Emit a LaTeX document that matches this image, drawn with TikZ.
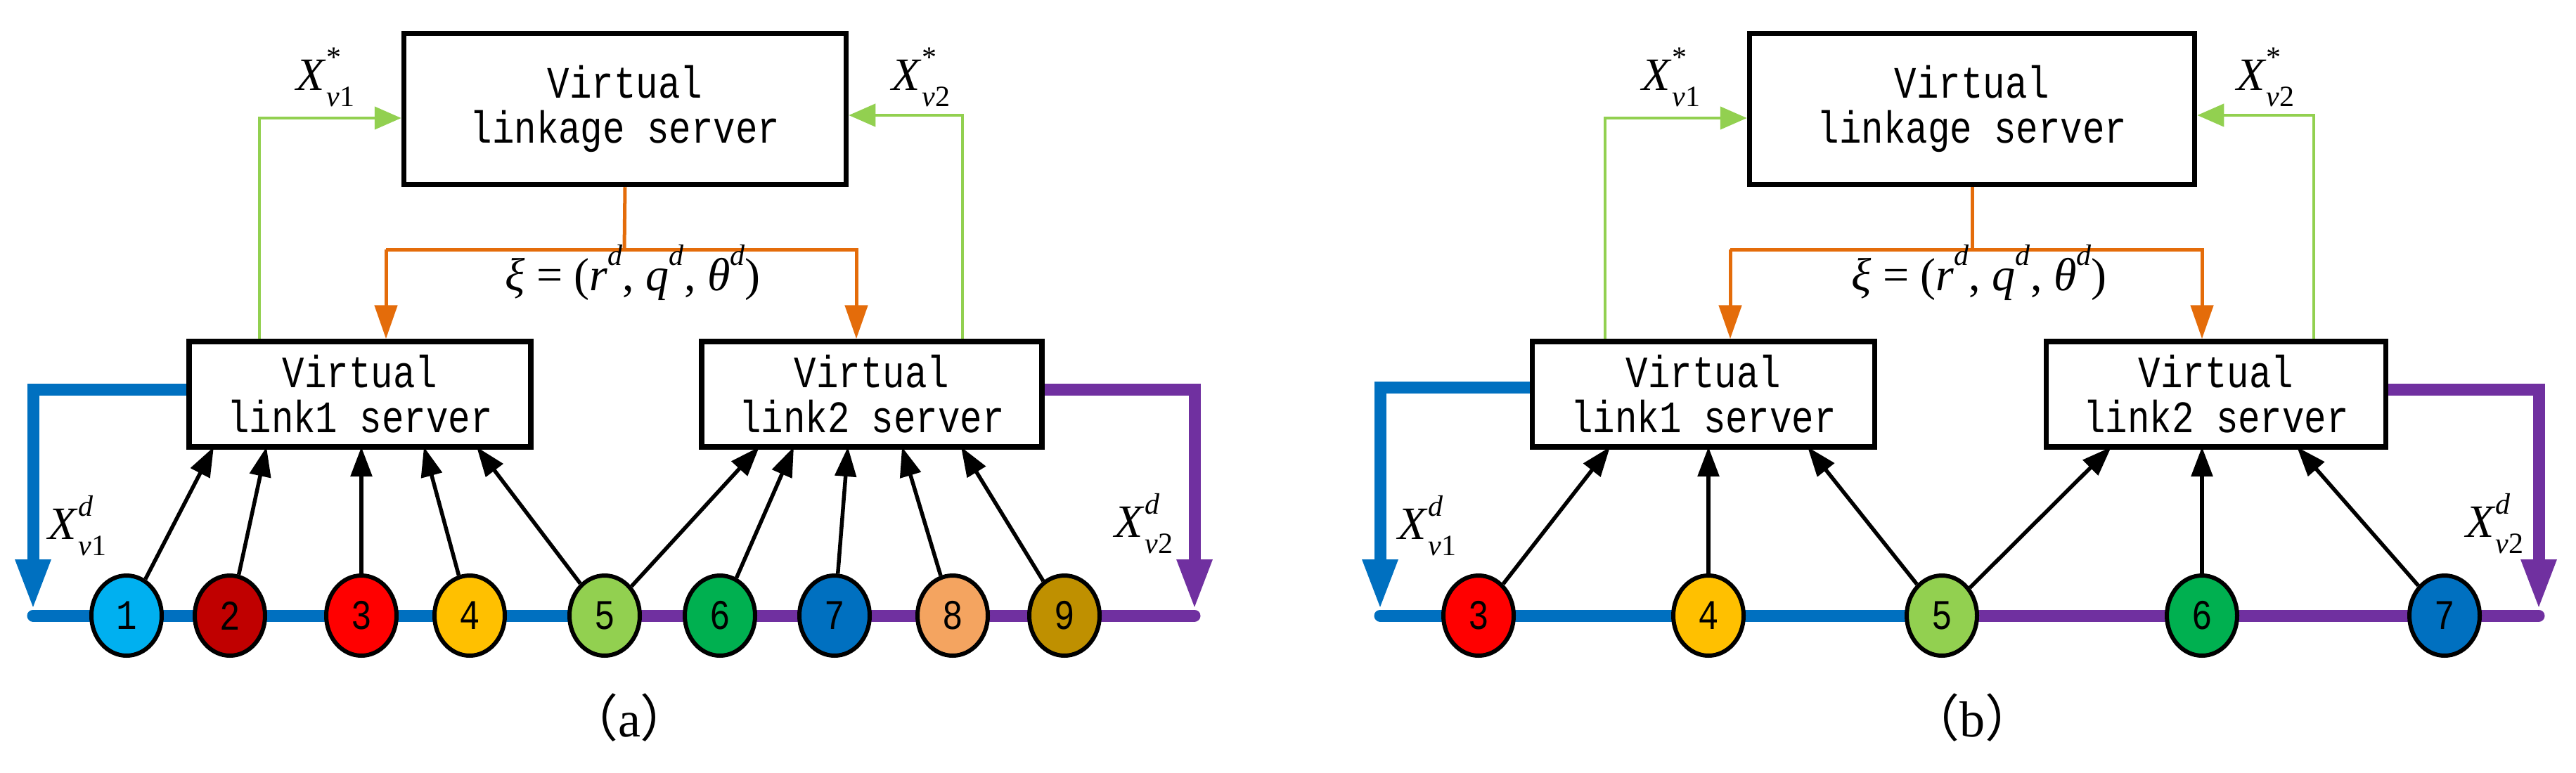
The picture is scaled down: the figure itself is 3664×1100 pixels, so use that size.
\documentclass[tikz,border=0pt]{standalone}
\usepackage{fontspec}
\setmainfont{Liberation Serif}
\newfontfamily\monof[FakeStretch=0.82]{Liberation Mono}
\newfontfamily\cjk{Noto Sans CJK SC}
\usetikzlibrary{arrows.meta,shapes.geometric}
\definecolor{cblue}{HTML}{0070C0}
\definecolor{cpurple}{HTML}{7030A0}
\definecolor{cgreen}{HTML}{92D050}
\definecolor{corange}{HTML}{E46C0A}
\definecolor{k1}{HTML}{00B0F0}
\definecolor{k2}{HTML}{C00000}
\definecolor{k3}{HTML}{FF0000}
\definecolor{k4}{HTML}{FFC000}
\definecolor{k5}{HTML}{92D050}
\definecolor{k6}{HTML}{00B050}
\definecolor{k7}{HTML}{0070C0}
\definecolor{k8}{HTML}{F4A460}
\definecolor{k9}{HTML}{BF9000}
\newcommand{\XL}[2]{\textit{X}\makebox[0pt][l]{\raisebox{0.5em}{\fontsize{42}{42}\selectfont #1}}\raisebox{-0.35em}{\fontsize{42}{42}\selectfont\textit{v}#2}}
\newcommand{\SUP}[1]{\raisebox{0.55em}{\fontsize{42}{42}\selectfont\textit{#1}}}
\tikzset{
 box/.style={draw,line width=7.5pt,fill=white,align=center,font=\fontsize{64}{64}\selectfont\monof,inner sep=0pt},
 circ/.style={draw,line width=6pt,ellipse,minimum width=100pt,minimum height=114pt,inner sep=0pt,font=\fontsize{60}{60}\selectfont\monof},
 arr/.style={line width=5.5pt,-{Triangle[length=42pt,width=30pt]}},
 garr/.style={cgreen,line width=4.5pt,-{Triangle[length=38pt,width=32pt]}},
 oarr/.style={corange,line width=5pt,-{Triangle[length=48pt,width=32pt]}},
 thick1/.style={line width=17pt,line cap=round},
 bigarr/.style={line width=17pt,-{Triangle[length=72pt,width=46pt]}},
 lab/.style={font=\fontsize{66}{66}\selectfont},
}
\begin{document}
\begin{tikzpicture}[x=1pt,y=-1pt]
\useasboundingbox (0,0) rectangle (3664,1100);
% ===== panel (a)
\node[box,minimum width=629pt,minimum height=215pt] (top) at (889,155) {Virtual\\linkage server};
\node[box,minimum width=486pt,minimum height=150pt] (l1) at (512,561) {Virtual\\link1 server};
\node[box,minimum width=484pt,minimum height=150pt] (l2) at (1240,561) {Virtual\\link2 server};
\coordinate (aL) at (47,876); \coordinate (a5) at (860,876); \coordinate (aR) at (1699,876);
\draw[cblue,thick1] (aL) -- (a5);
\draw[cpurple,thick1] (a5) -- (aR);
\draw[cblue,thick1,line cap=butt] (l1.west |- 0,554) -- (47,554) -- (47,800);
\draw[cblue,bigarr] (47,790) -- (47,868);
\draw[cpurple,thick1,line cap=butt] (l2.east |- 0,554) -- (1699,554) -- (1699,800);
\draw[cpurple,bigarr] (1699,790) -- (1699,868);
\foreach \i/\x in {1/180,2/327,3/514,4/668,5/860,6/1024,7/1187,8/1355,9/1514}
  \node[circ,fill=k\i] (a\i) at (\x,876) {\i};
\foreach \i/\x in {1/304,2/379,3/514,4/603,5/678} \draw[arr] (a\i) -- (\x,636);
\foreach \i/\x in {5/1080,6/1129,7/1206,8/1283,9/1367} \draw[arr] (a\i) -- (\x,636);
\draw[garr] (l1.north -| 369,0) -- (369,168) -- (top.west |- 0,168);
\draw[garr] (l2.north -| 1369,0) -- (1369,164) -- (top.east |- 0,164);
\draw[corange,line width=5pt] (top.south) -- (888,355);
\draw[oarr] (549,355) -- (l1.north -| 549,0);
\draw[oarr] (549,355) -- (1218,355) -- (l2.north -| 1218,0);
\node[lab] (xa) at (900,388) {\textit{ξ} = (\textit{r}\SUP{d}, \textit{q}\SUP{d}, \textit{θ}\SUP{d})};
\node[lab] (xs1) at (463,110) {\XL{*}{1}};
\node[lab] (xs2) at (1310,110) {\XL{*}{2}};
\node[lab] (xd1) at (110,748) {\XL{\textit{d}}{1}};
\node[lab] (xd2) at (1627,745) {\XL{\textit{d}}{2}};
\node[font=\fontsize{72}{72}\selectfont] (ca) at (895,1021) {{\cjk（}a{\cjk）}};
% ===== panel (b)
\node[box,minimum width=633pt,minimum height=215pt] (topb) at (2805,155) {Virtual\\linkage server};
\node[box,minimum width=487pt,minimum height=150pt] (l1b) at (2423,561) {Virtual\\link1 server};
\node[box,minimum width=483pt,minimum height=150pt] (l2b) at (3152,561) {Virtual\\link2 server};
\coordinate (bL) at (1963,876); \coordinate (b5) at (2762,876); \coordinate (bR) at (3611,876);
\draw[cblue,thick1] (bL) -- (b5);
\draw[cpurple,thick1] (b5) -- (bR);
\draw[cblue,thick1,line cap=butt] (l1b.west |- 0,551) -- (1963,551) -- (1963,800);
\draw[cblue,bigarr] (1963,790) -- (1963,868);
\draw[cpurple,thick1,line cap=butt] (l2b.east |- 0,554) -- (3611,554) -- (3611,800);
\draw[cpurple,bigarr] (3611,790) -- (3611,868);
\foreach \i/\x in {3/2103,4/2430,5/2762,6/3132,7/3477}
  \node[circ,fill=k\i] (b\i) at (\x,876) {\i};
\draw[arr] (b3) -- (2290,636);
\draw[arr] (b4) -- (2430,636);
\draw[arr] (b5) -- (2571,636);
\draw[arr] (b5) -- (3003,636);
\draw[arr] (b6) -- (3132,636);
\draw[arr] (b7) -- (3267,636);
\draw[garr] (l1b.north -| 2283,0) -- (2283,168) -- (topb.west |- 0,168);
\draw[garr] (l2b.north -| 3291,0) -- (3291,164) -- (topb.east |- 0,164);
\draw[corange,line width=5pt] (topb.south) -- (2805,355);
\draw[oarr] (2461,355) -- (l1b.north -| 2461,0);
\draw[oarr] (2461,355) -- (3132,355) -- (l2b.north -| 3132,0);
\node[lab] (xb) at (2815,388) {\textit{ξ} = (\textit{r}\SUP{d}, \textit{q}\SUP{d}, \textit{θ}\SUP{d})};
\node[lab] (ys1) at (2377,110) {\XL{*}{1}};
\node[lab] (ys2) at (3222,110) {\XL{*}{2}};
\node[lab] (yd1) at (2030,748) {\XL{\textit{d}}{1}};
\node[lab] (yd2) at (3548,745) {\XL{\textit{d}}{2}};
\node[font=\fontsize{72}{72}\selectfont] (cb) at (2805,1021) {{\cjk（}b{\cjk）}};
\end{tikzpicture}
\end{document}
